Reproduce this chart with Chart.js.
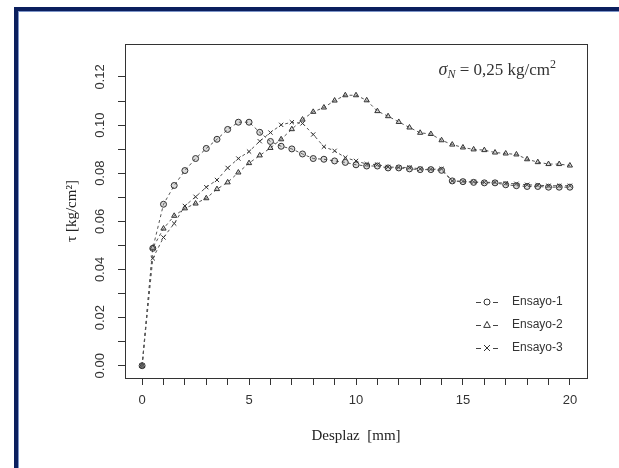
<!DOCTYPE html>
<html>
<head>
<meta charset="utf-8">
<script src="https://cdn.jsdelivr.net/npm/chart.js@4.4.1/dist/chart.umd.min.js"></script>
<style>
html, body { margin: 0; padding: 0; background: #fff; }
#wrap { position: relative; width: 619px; height: 468px; }
</style>
</head>
<body>
<div id="wrap"><canvas id="shear" width="619" height="468"></canvas></div>
<script>
// desplazamiento horizontal [mm]
var desplaz = [0, 0.5, 1, 1.5, 2, 2.5, 3, 3.5, 4, 4.5, 5, 5.5, 6, 6.5, 7, 7.5, 8, 8.5, 9, 9.5,
	10, 10.5, 11, 11.5, 12, 12.5, 13, 13.5, 14, 14.5, 15, 15.5, 16, 16.5, 17, 17.5, 18, 18.5, 19, 19.5, 20];

// tension tangencial [kg/cm2]
var ensayo1 = [0, 0.0488, 0.0671, 0.0749, 0.0811, 0.0861, 0.0903, 0.0941, 0.0982, 0.1012, 0.1012,
	0.0970, 0.0932, 0.0912, 0.0901, 0.0880, 0.0861, 0.0858, 0.0851, 0.0845, 0.0835,
	0.0830, 0.0830, 0.0822, 0.0822, 0.0818, 0.0815, 0.0815, 0.0812, 0.0768, 0.0765,
	0.0762, 0.0760, 0.0760, 0.0752, 0.0748, 0.0745, 0.0745, 0.0742, 0.0742, 0.0742];
var ensayo2 = [0, 0.0490, 0.0570, 0.0623, 0.0654, 0.0674, 0.0696, 0.0734, 0.0762, 0.0803, 0.0842,
	0.0874, 0.0905, 0.0941, 0.0983, 0.1023, 0.1055, 0.1073, 0.1102, 0.1124, 0.1124,
	0.1103, 0.1058, 0.1037, 0.1013, 0.0990, 0.0968, 0.0963, 0.0937, 0.0919, 0.0907,
	0.0899, 0.0896, 0.0886, 0.0882, 0.0878, 0.0858, 0.0846, 0.0838, 0.0838, 0.0832];
var ensayo3 = [0, 0.0446, 0.0533, 0.0591, 0.0664, 0.0702, 0.0742, 0.0772, 0.0822, 0.0861, 0.0890,
	0.0933, 0.0969, 0.1001, 0.1012, 0.1007, 0.0961, 0.0910, 0.0893, 0.0865, 0.0851,
	0.0838, 0.0836, 0.0826, 0.0824, 0.0824, 0.0818, 0.0816, 0.0818, 0.0768, 0.0766,
	0.0764, 0.0762, 0.0762, 0.0758, 0.0756, 0.0752, 0.0750, 0.0748, 0.0748, 0.0748];

var series = ['Ensayo-1', 'Ensayo-2', 'Ensayo-3'];
var xTickLabels = [0, 5, 10, 15, 20];
var yTickLabels = [0, 0.02, 0.04, 0.06, 0.08, 0.10, 0.12];

var ink = '#333333';
var sans = '"Liberation Sans", Arial, sans-serif';
var serif = '"Liberation Serif", "Times New Roman", serif';

function pts(ys) {
	return desplaz.map(function(x, i) { return {x: x, y: ys[i]}; });
}

function serie(label, ys, style) {
	return {
		label: label,
		data: pts(ys),
		borderColor: '#555',
		borderWidth: 1,
		borderDash: [3, 3],
		pointStyle: style,
		pointRadius: 3,
		pointBorderWidth: 1,
		pointBorderColor: '#333',
		pointBackgroundColor: 'rgba(110,110,110,0.25)',
		tension: 0,
		fill: false
	};
}

// marco azul de la pagina
var frame = {
	id: 'frame',
	beforeDraw: function(chart) {
		var ctx = chart.ctx;
		ctx.save();
		ctx.fillStyle = '#fff';
		ctx.fillRect(0, 0, chart.width, chart.height);
		ctx.fillStyle = '#0b1f5e';
		ctx.fillRect(14, 7, 4, 461);
		ctx.fillRect(14, 7, 605, 4);
		ctx.fillStyle = '#7d95c8';
		ctx.fillRect(18, 11, 1, 457);
		ctx.fillRect(18, 11, 601, 1);
		ctx.restore();
	}
};

function drawMark(ctx, style, x, y, r) {
	ctx.beginPath();
	if (style === 'circle') {
		ctx.arc(x, y, r, 0, Math.PI * 2);
	} else if (style === 'triangle') {
		ctx.moveTo(x, y - r * 1.2);
		ctx.lineTo(x + r * 1.1, y + r * 0.8);
		ctx.lineTo(x - r * 1.1, y + r * 0.8);
		ctx.closePath();
	} else {
		ctx.moveTo(x - r, y - r); ctx.lineTo(x + r, y + r);
		ctx.moveTo(x + r, y - r); ctx.lineTo(x - r, y + r);
	}
	ctx.stroke();
}

var extras = {
	id: 'extras',
	afterDraw: function(chart) {
		var ctx = chart.ctx, a = chart.chartArea, ys = chart.scales.y;
		ctx.save();
		// caja del grafico
		ctx.strokeStyle = ink;
		ctx.lineWidth = 1;
		ctx.strokeRect(Math.round(a.left) + 0.5, Math.round(a.top) + 0.5,
			Math.round(a.right - a.left), Math.round(a.bottom - a.top));

		// etiquetas del eje y, giradas como en R
		ctx.fillStyle = ink;
		ctx.font = '13px ' + sans;
		ctx.textAlign = 'center';
		ctx.textBaseline = 'middle';
		yTickLabels.forEach(function(v) {
			ctx.save();
			ctx.translate(a.left - 25, ys.getPixelForValue(v));
			ctx.rotate(-Math.PI / 2);
			ctx.fillText(v.toFixed(2), 0, 0);
			ctx.restore();
		});

		// sigma_N = 0,25 kg/cm2
		var base = 75, right = 556;
		var parts = [
			{t: '\u03C3', f: 'italic 18px ' + serif, dy: 0},
			{t: 'N', f: 'italic 12px ' + serif, dy: 3},
			{t: ' = 0,25 kg/cm', f: '17px ' + serif, dy: 0},
			{t: '2', f: '12px ' + serif, dy: -7}
		];
		var w = 0;
		parts.forEach(function(p) { ctx.font = p.f; w += ctx.measureText(p.t).width; });
		var x = right - w;
		ctx.textAlign = 'left';
		ctx.textBaseline = 'alphabetic';
		parts.forEach(function(p) {
			ctx.font = p.f;
			ctx.fillText(p.t, x, base + p.dy);
			x += ctx.measureText(p.t).width;
		});

		// leyenda
		var top = 302, gap = 23;
		chart.data.datasets.forEach(function(ds, i) {
			var y = top + i * gap;
			ctx.strokeStyle = '#444';
			ctx.lineWidth = 1;
			ctx.beginPath();
			ctx.moveTo(476, y + 0.5); ctx.lineTo(481, y + 0.5);
			ctx.moveTo(493, y + 0.5); ctx.lineTo(498, y + 0.5);
			ctx.stroke();
			ctx.strokeStyle = '#333';
			drawMark(ctx, ds.pointStyle, 487, y, 3);
			ctx.fillStyle = ink;
			ctx.font = '12px ' + sans;
			ctx.textBaseline = 'middle';
			ctx.fillText(ds.label, 512, y);
		});
		ctx.restore();
	}
};

var chart = new Chart(document.getElementById('shear'), {
	type: 'line',
	data: {
		datasets: [
			serie(series[0], ensayo1, 'circle'),
			serie(series[1], ensayo2, 'triangle'),
			serie(series[2], ensayo3, 'crossRot')
		]
	},
	options: {
		responsive: false,
		animation: false,
		devicePixelRatio: 1,
		layout: { padding: { left: 0, right: 32, top: 44, bottom: 0 } },
		plugins: {
			legend: { display: false },
			tooltip: { enabled: false }
		},
		scales: {
			x: {
				type: 'linear',
				min: -0.8,
				max: 20.8,
				afterFit: function(s) { s.height = 90; },
				afterBuildTicks: function(s) {
					s.ticks = s.ticks.filter(function(t) { return t.value >= 0 && t.value <= 20; });
				},
				grid: { drawOnChartArea: false, drawTicks: true, tickLength: 7, color: ink },
				border: { display: true, color: ink },
				ticks: {
					stepSize: 1,
					includeBounds: false,
					autoSkip: false,
					maxRotation: 0,
					padding: 8,
					color: ink,
					font: { family: sans, size: 13 },
					callback: function(v) { return xTickLabels.indexOf(v) >= 0 ? String(v) : ''; }
				},
				title: {
					display: true,
					text: 'Desplaz  [mm]',
					color: '#222',
					font: { family: serif, size: 15 },
					padding: { top: 0, bottom: 23 }
				}
			},
			y: {
				min: -0.0051,
				max: 0.1337,
				afterFit: function(s) { s.width = 125; },
				afterBuildTicks: function(s) {
					s.ticks = s.ticks.filter(function(t) { return t.value > -0.001 && t.value < 0.1205; });
				},
				grid: { drawOnChartArea: false, drawTicks: true, tickLength: 7, color: ink },
				border: { display: true, color: ink },
				ticks: {
					stepSize: 0.01,
					includeBounds: false,
					autoSkip: false,
					display: false
				},
				title: {
					display: true,
					text: '\u03C4 [kg/cm\u00B2]',
					color: '#222',
					font: { family: serif, size: 15 },
					padding: { top: 63, bottom: 0 }
				}
			}
		}
	},
	plugins: [frame, extras]
});
</script>
</body>
</html>
